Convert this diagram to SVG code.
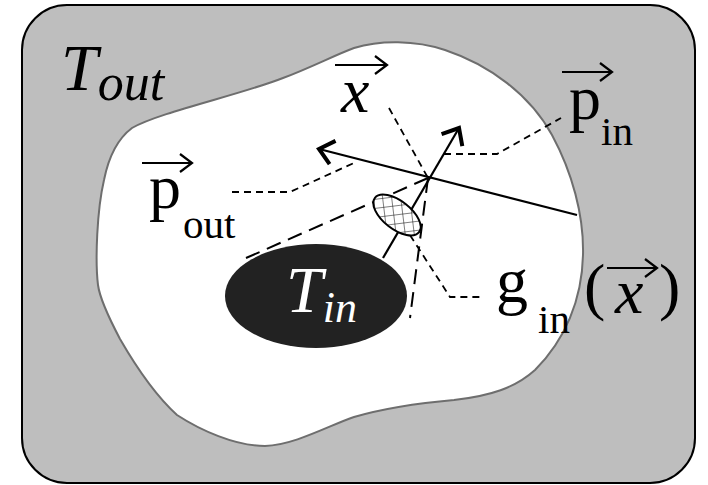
<svg xmlns="http://www.w3.org/2000/svg" width="708" height="485" viewBox="0 0 708 485">
  <style>
    .serif { font-family: "Liberation Serif", "Times New Roman", serif; fill: #000; }
    .it { font-style: italic; }
    .big { font-size: 64px; }
    .sub { font-size: 41px; }
    .vec { fill: none; stroke: #000; stroke-width: 2; }
    .solid { fill: none; stroke: #000; stroke-width: 2.2; }
    .lead { fill: none; stroke: #000; stroke-width: 1.8; stroke-dasharray: 7 5; }
    .tan { fill: none; stroke: #000; stroke-width: 2; stroke-dasharray: 15 8; }
  </style>
  <defs>
    <marker id="chev" markerUnits="userSpaceOnUse" viewBox="-20 -16 24 32" markerWidth="24" markerHeight="32" refX="0" refY="0" orient="auto">
      <path d="M -14,-12 L 0,0 L -14,12" fill="none" stroke="#000" stroke-width="4"/>
    </marker>
    <marker id="vhead" markerUnits="userSpaceOnUse" viewBox="-16 -12 20 24" markerWidth="20" markerHeight="24" refX="0" refY="0" orient="auto">
      <path d="M -12,-9 L 0,0 L -12,9" fill="none" stroke="#000" stroke-width="2.2"/>
    </marker>
    <pattern id="hatch" width="9" height="9" patternUnits="userSpaceOnUse" patternTransform="rotate(45)">
      <rect width="9" height="9" fill="#fff"/>
      <path d="M0,0 H9 M0,0 V9" stroke="#000" stroke-width="1"/>
    </pattern>
  </defs>

  <g id="frame">
    <rect x="22" y="5" width="673" height="478" rx="45" ry="45" fill="#bebebe" stroke="#000" stroke-width="2"/>
  </g>

  <g id="region-inner">
    <path d="M 354,48 C 380,40 415,40 445,50 C 490,65 530,95 552,135 C 572,172 584,215 583,255 C 582,300 565,340 535,370 C 515,388 490,396 454,400 C 420,403 385,408 354,417 C 330,425 295,445 265,446 C 235,446 200,430 177,415 C 155,395 135,365 120,339 C 110,320 100,300 98,285 C 95,260 97,210 104,180 C 108,160 116,140 132,128 C 160,112 240,95 283,78 C 310,68 335,55 354,48 Z" fill="#fff" stroke="#6e6e6e" stroke-width="2"/>
  </g>

  <g id="label-Tout">
    <text class="serif it" x="61" y="90" font-size="66">T<tspan dy="10" font-size="52">out</tspan></text>
  </g>

  <g id="node-Tin">
    <ellipse cx="316" cy="296" rx="91" ry="52" fill="#222"/>
    <text class="serif it" x="286" y="312" font-size="66" style="fill:#fff">T<tspan dy="10" font-size="44">in</tspan></text>
  </g>

  <g id="connectors">
    <!-- tangent lines from the point to T_in -->
    <path class="tan" d="M 428,178 L 246,258"/>
    <path class="tan" d="M 428,178 L 410,318"/>
    <!-- leaders -->
    <path class="lead" d="M 232,192 L 290,192 L 356,162"/>
    <path class="lead" d="M 444,154 L 497,154 L 561,118"/>
    <path class="lead" d="M 389,108 L 428,178"/>
    <path class="lead" d="M 397,215 L 450,297 L 481,297"/>
    <!-- direction arrows -->
    <path class="solid" d="M 577,215 L 319,149" marker-end="url(#chev)"/>
    <path class="solid" d="M 383,258 L 459,128" marker-end="url(#chev)"/>
  </g>

  <g id="node-g">
    <ellipse cx="397" cy="215" rx="28" ry="14" transform="rotate(38 397 215)" fill="url(#hatch)" stroke="#000" stroke-width="2"/>
  </g>

  <g id="label-x">
    <path class="vec" d="M 335,65 L 387,65" marker-end="url(#vhead)"/>
    <text class="serif it big" x="341" y="112">x</text>
  </g>

  <g id="label-pout">
    <path class="vec" d="M 142,163 L 192,163" marker-end="url(#vhead)"/>
    <text class="serif big" x="149" y="208">p<tspan class="sub" dx="2" dy="30">out</tspan></text>
  </g>

  <g id="label-pin">
    <path class="vec" d="M 562,72 L 612,72" marker-end="url(#vhead)"/>
    <text class="serif big" x="569" y="119">p<tspan class="sub" dy="26">in</tspan></text>
  </g>

  <g id="label-gin">
    <text class="serif big" x="496" y="302">g<tspan class="sub" dx="10" dy="31">in</tspan></text>
    <text class="serif big" x="584" y="308">(</text>
    <text class="serif it big" x="615" y="313">x</text>
    <text class="serif big" x="659" y="308">)</text>
    <path class="vec" d="M 607,268 L 657,268" marker-end="url(#vhead)"/>
  </g>
</svg>
